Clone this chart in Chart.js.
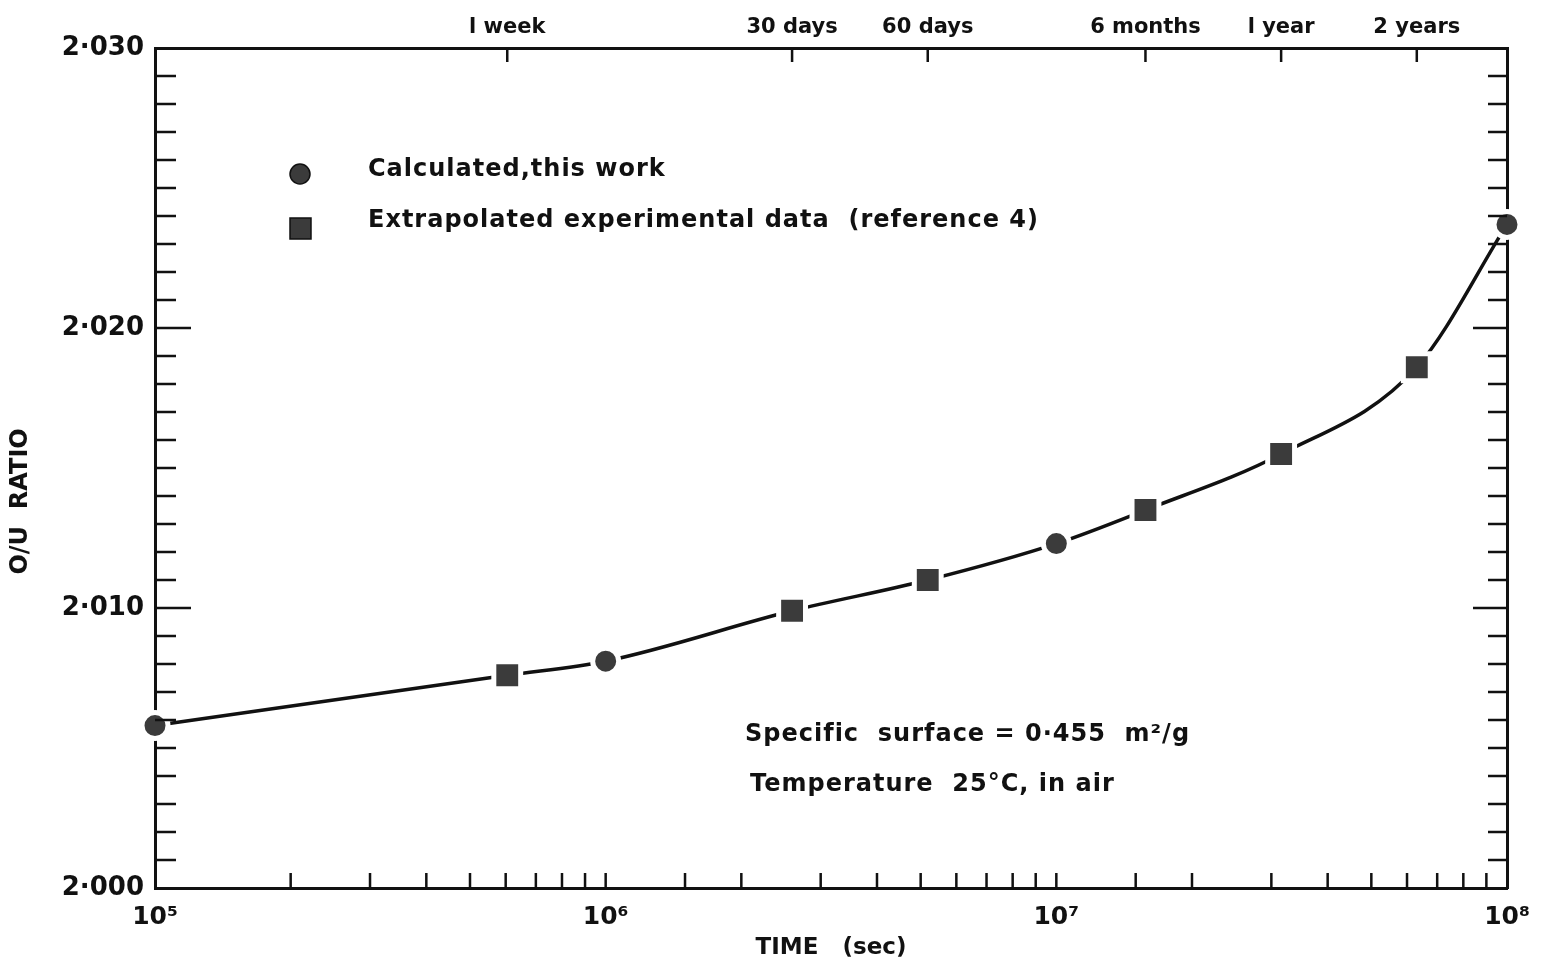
<!DOCTYPE html>
<html>
<head>
<meta charset="utf-8">
<script src="https://cdn.jsdelivr.net/npm/chart.js@4/dist/chart.umd.min.js"></script>
<style>
  html, body { margin: 0; padding: 0; background: #fff; }
  #wrap { width: 1547px; height: 964px; position: relative; }
</style>
</head>
<body>
<div id="wrap"><canvas id="myChart"></canvas></div>
<script>
// data (time in seconds, O/U ratio)
const calcTimes = [1e5, 1e6, 1e7, 1e8];
const calcRatios = [2.0058, 2.0081, 2.0123, 2.0237];
const expTimes = [604800, 2592000, 5184000, 15768000, 31536000, 63072000];
const expRatios = [2.0076, 2.0099, 2.0110, 2.0135, 2.0155, 2.0186];
const topTicks = [604800, 2592000, 5184000, 15768000, 31536000, 63072000];
const topLabels = ['l week', '30 days', '60 days', '6 months', 'l year', '2 years'];
const decadeLabels = {100000: '10\u2075', 1000000: '10\u2076', 10000000: '10\u2077', 100000000: '10\u2078'};

const FONT = '"DejaVu Sans", sans-serif';
const INK = '#111';
const MARK = '#3b3b3b';

const calcPts = calcTimes.map((t, i) => ({x: t, y: calcRatios[i]}));
const expPts = expTimes.map((t, i) => ({x: t, y: expRatios[i]}));
const curve = calcPts.concat(expPts).sort((a, b) => a.x - b.x);

// inner tick marks on all four sides, plus legend and notes
const paperPlugin = {
    id: 'paper',
    afterDraw(chart) {
        const c = chart.ctx;
        const a = chart.chartArea;
        const x = chart.scales.x, y = chart.scales.y, x2 = chart.scales.x2;
        c.save();
        c.strokeStyle = INK;
        c.lineWidth = 2.5;
        c.beginPath();
        y.ticks.forEach(t => {
            const py = y.getPixelForValue(t.value);
            const major = Math.round(t.value * 1000) % 10 === 0;
            if (py <= a.top + 1 || py >= a.bottom - 1) return;
            c.moveTo(a.left, py); c.lineTo(a.left + (major ? 36 : 21), py);
            c.moveTo(a.right, py); c.lineTo(a.right - (major ? 34 : 19), py);
        });
        x.ticks.forEach(t => {
            const px = x.getPixelForValue(t.value);
            if (px <= a.left + 1 || px >= a.right - 1) return;
            c.moveTo(px, a.bottom); c.lineTo(px, a.bottom - 15);
        });
        x2.ticks.forEach(t => {
            const px = x2.getPixelForValue(t.value);
            c.moveTo(px, a.top); c.lineTo(px, a.top + 14);
        });
        c.stroke();

        // legend
        c.fillStyle = MARK;
        c.strokeStyle = INK;
        c.lineWidth = 1.5;
        c.beginPath(); c.arc(300, 174, 10, 0, Math.PI * 2); c.fill(); c.stroke();
        c.fillRect(290, 218, 21, 21); c.strokeRect(290, 218, 21, 21);
        c.fillStyle = INK;
        c.font = '600 24px ' + FONT;
        c.letterSpacing = '1px';
        c.textBaseline = 'middle';
        c.fillText('Calculated,this work', 368, 170);
        c.fillText('Extrapolated experimental data  (reference 4)', 368, 221);
        c.fillText('Specific  surface = 0\u00b7455  m\u00b2/g', 745, 735);
        c.fillText('Temperature  25\u00b0C, in air', 750, 785);
        c.restore();
    }
};

const ctx = document.getElementById('myChart').getContext('2d');
const myChart = new Chart(ctx, {
    type: 'scatter',
    data: {
        datasets: [{
            label: 'Calculated, this work',
            data: calcPts,
            pointStyle: 'circle',
            pointRadius: 13,
            pointBackgroundColor: MARK,
            pointBorderColor: '#fff',
            pointBorderWidth: 5,
            showLine: false,
            clip: false,
            order: 1
        }, {
            label: 'Extrapolated experimental data (reference 4)',
            data: expPts,
            pointStyle: 'rect',
            pointRadius: 19,
            pointBackgroundColor: MARK,
            pointBorderColor: '#fff',
            pointBorderWidth: 5,
            showLine: false,
            clip: false,
            order: 1
        }, {
            label: 'curve',
            data: curve,
            showLine: true,
            pointRadius: 0,
            borderColor: INK,
            borderWidth: 3.5,
            cubicInterpolationMode: 'monotone',
            clip: false,
            order: 3
        }]
    },
    options: {
        responsive: true,
        maintainAspectRatio: false,
        animation: false,
        layout: { padding: 0 },
        plugins: {
            legend: { display: false },
            tooltip: { enabled: false }
        },
        scales: {
            x: {
                type: 'logarithmic',
                position: 'bottom',
                min: 1e5,
                max: 1e8,
                afterFit: s => { s.height = 76; },
                grid: { display: false },
                border: { display: true, color: INK, width: 3 },
                ticks: {
                    autoSkip: false,
                    maxRotation: 0,
                    color: INK,
                    padding: 6,
                    font: { family: FONT, size: 25, weight: '600' },
                    callback: v => decadeLabels[v] || ''
                },
                title: {
                    display: true,
                    text: 'TIME   (sec)',
                    color: INK,
                    padding: { top: 0, bottom: 2 },
                    font: { family: FONT, size: 23, weight: '600' }
                }
            },
            x2: {
                type: 'logarithmic',
                position: 'top',
                min: 1e5,
                max: 1e8,
                afterFit: s => { s.height = 48; },
                afterBuildTicks: s => { s.ticks = topTicks.map(v => ({value: v})); },
                grid: { display: false },
                border: { display: true, color: INK, width: 3 },
                ticks: {
                    autoSkip: false,
                    maxRotation: 0,
                    color: INK,
                    padding: 0,
                    font: { family: FONT, size: 21, weight: '600' },
                    callback: (v, i) => topLabels[i]
                }
            },
            y: {
                type: 'linear',
                position: 'left',
                min: 2.000,
                max: 2.030,
                afterFit: s => { s.width = 155; },
                grid: { display: false },
                border: { display: true, color: INK, width: 3 },
                ticks: {
                    stepSize: 0.001,
                    autoSkip: false,
                    color: INK,
                    padding: 3,
                    font: { family: FONT, size: 26, weight: 'bold' },
                    callback: v => (Math.round(v * 1000) % 10 === 0) ? v.toFixed(3).replace('.', '\u00b7') : ''
                },
                title: {
                    display: true,
                    text: 'O/U  RATIO        ',
                    color: INK,
                    padding: { top: 6, bottom: 0 },
                    font: { family: FONT, size: 24, weight: '600' }
                }
            },
            y2: {
                type: 'linear',
                position: 'right',
                min: 2.000,
                max: 2.030,
                afterFit: s => { s.width = 40; },
                grid: { display: false },
                border: { display: true, color: INK, width: 3 },
                ticks: { display: false, stepSize: 0.001 }
            }
        }
    },
    plugins: [paperPlugin]
});
</script>
</body>
</html>
